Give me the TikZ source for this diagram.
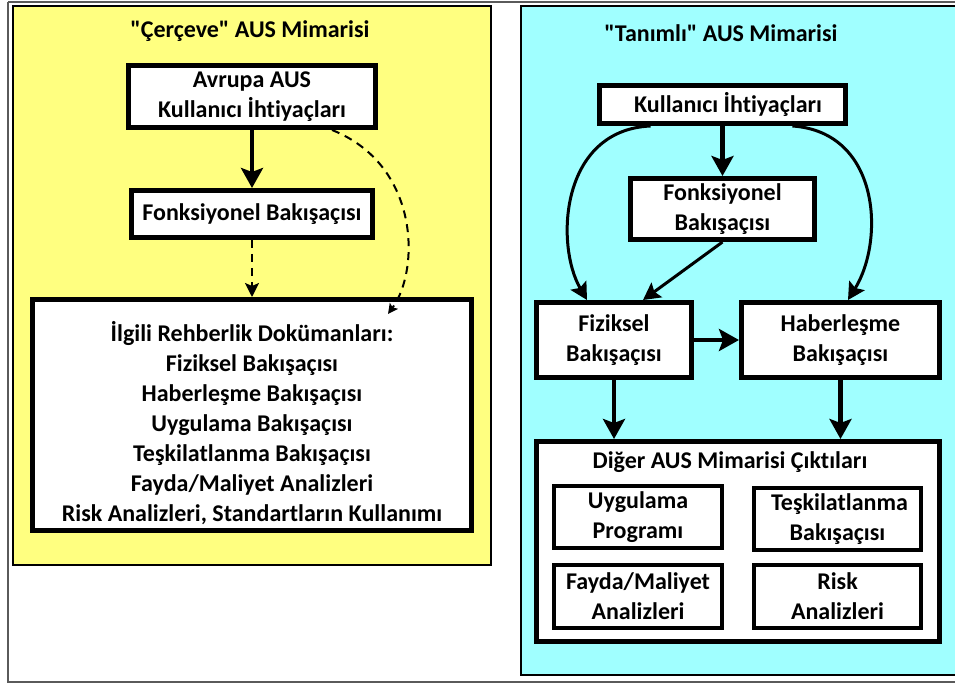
\documentclass[tikz,border=0pt]{standalone}
\usepackage{fontspec}
% a family without the TeX mapping, so that " stays a straight quote
\newfontfamily\boxfont{Carlito}[Ligatures=CommonOff]
\usetikzlibrary{arrows.meta}

\definecolor{panelyellow}{RGB}{255,255,128}
\definecolor{panelcyan}{RGB}{160,255,255}
\definecolor{framegray}{RGB}{90,90,90}

\tikzset{
  txt/.style={font=\boxfont\fontsize{24}{30}\selectfont\bfseries, align=center, inner sep=0pt},
  mainbox/.style={draw, fill=white, line width=5pt, inner sep=0pt,
                  font=\boxfont\fontsize{24}{30}\selectfont\bfseries, align=center},
  subbox/.style={mainbox, line width=4pt},
  panel/.style={line width=2.5pt},
  flow/.style={line width=4.5pt, -{Stealth[length=20pt,width=22pt,inset=4pt]}},
  curvedflow/.style={line width=3pt, -{Stealth[length=17pt,width=18pt,inset=3pt]}},
  hint/.style={line width=2pt, dash pattern=on 8pt off 6pt,
               -{Stealth[length=14pt,width=14pt,inset=3pt]}},
  hintcurve/.style={line width=2pt, dash pattern=on 8pt off 6pt,
               -{Stealth[length=10pt,width=10pt,inset=2pt]}}
}

\begin{document}
\begin{tikzpicture}[x=1pt,y=-1pt]
  \useasboundingbox (0,0) rectangle (955,684);
  \begin{scope}
    \clip (0,0) rectangle (955,684);
    % outer frame
    \draw[framegray, line width=1.5pt] (8,2) -- (960,2);
    \draw[framegray, line width=1.5pt] (8,2) -- (8,682) -- (960,682);

    % left panel: framework architecture
    \draw[panel, fill=panelyellow] (13,6) rectangle (491,565);
    \node[txt] (ltitle) at (250,31) {"Çerçeve" AUS Mimarisi};

    \node[mainbox, minimum width=247pt, minimum height=62pt] (eu) at (252,96.5)
      {Avrupa AUS\\Kullanıcı İhtiyaçları};
    \node[mainbox, minimum width=241pt, minimum height=47pt] (lfunc) at (252,214)
      {Fonksiyonel Bakışaçısı};
    \node[mainbox, minimum width=439pt, minimum height=231pt] (guide) at (252,415) {};
    \node[txt] (guidetext) at (252,423)
      {İlgili Rehberlik Dokümanları:\\
       Fiziksel Bakışaçısı\\
       Haberleşme Bakışaçısı\\
       Uygulama Bakışaçısı\\
       Teşkilatlanma Bakışaçısı\\
       Fayda/Maliyet Analizleri\\
       Risk Analizleri, Standartların Kullanımı};

    \draw[flow] (eu.south) -- (lfunc.north);
    \draw[hint] (lfunc.south) -- (guide.north);
    \coordinate (guidein) at (388,314);
    \draw[hintcurve] ([xshift=80pt]eu.south) .. controls (420,165) and (420,270) .. (guidein);

    % right panel: defined architecture
    \draw[panel, fill=panelcyan] (521,6) rectangle (965,675);
    \node[txt] (rtitle) at (721,33) {"Tanımlı" AUS Mimarisi};

    \node[mainbox, minimum width=246pt, minimum height=38pt] (needs) at (722.5,104.5)
      {\hspace*{11pt}Kullanıcı İhtiyaçları};
    \node[mainbox, minimum width=184pt, minimum height=61pt] (rfunc) at (722.5,209)
      {Fonksiyonel\\Bakışaçısı};
    \node[mainbox, minimum width=155pt, minimum height=75pt] (phys) at (614,340)
      {Fiziksel\\Bakışaçısı};
    \node[mainbox, minimum width=198pt, minimum height=75pt] (comm) at (840.5,340)
      {Haberleşme\\Bakışaçısı};
    \node[mainbox, minimum width=403pt, minimum height=200pt] (other) at (738,541.5) {};
    \node[txt] (othertitle) at (730,462) {Diğer AUS Mimarisi Çıktıları};

    \node[subbox, minimum width=168pt, minimum height=62pt] (app) at (638,517)
      {Uygulama\\Programı};
    \node[subbox, minimum width=167pt, minimum height=62pt] (org) at (837.5,519)
      {\hspace*{4pt}Teşkilatlanma\\Bakışaçısı};
    \node[subbox, minimum width=168pt, minimum height=63pt] (cost) at (638,596.5)
      {Fayda/Maliyet\\Analizleri};
    \node[subbox, minimum width=167pt, minimum height=63pt] (risk) at (837.5,596.5)
      {Risk\\Analizleri};

    \draw[flow] (needs.south) -- (rfunc.north);
    \draw[curvedflow] ([xshift=-72pt]needs.south) .. controls (560,130) and (555,245) .. ([xshift=-27pt]phys.north);
    \draw[curvedflow] ([xshift=70pt]needs.south) .. controls (880,132) and (885,240) .. ([xshift=7.5pt]comm.north);
    \draw[curvedflow] (rfunc.south) -- ([xshift=29pt]phys.north);
    \draw[flow] (phys.east) -- (comm.west);
    \draw[flow] (phys.south) -- (phys.south |- other.north);
    \draw[flow] (comm.south) -- (comm.south |- other.north);
  \end{scope}
\end{tikzpicture}
\end{document}
